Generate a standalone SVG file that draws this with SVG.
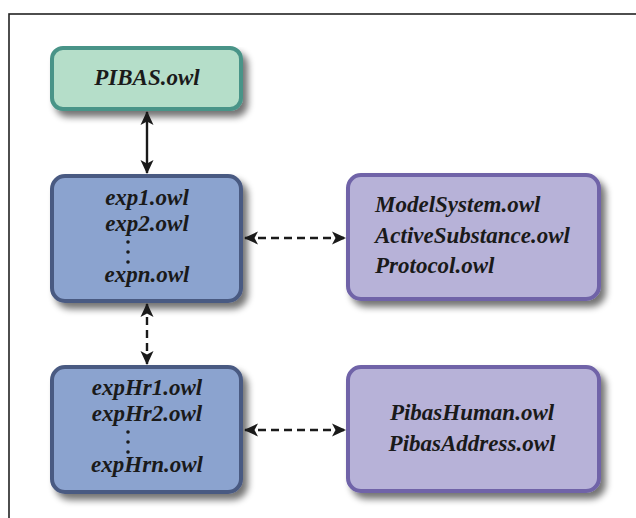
<svg xmlns="http://www.w3.org/2000/svg" width="636" height="518" viewBox="0 0 636 518">
  <defs>
    <filter id="shadow" x="-10%" y="-10%" width="130%" height="140%">
      <feGaussianBlur in="SourceAlpha" stdDeviation="3.5"/>
      <feOffset dx="5" dy="6" result="b"/>
      <feComponentTransfer><feFuncA type="linear" slope="0.55"/></feComponentTransfer>
      <feMerge><feMergeNode/><feMergeNode in="SourceGraphic"/></feMerge>
    </filter>
    <marker id="head" viewBox="0 0 14 14" refX="13" refY="7" markerWidth="14" markerHeight="14" markerUnits="userSpaceOnUse" orient="auto-start-reverse">
      <path d="M0,0.5 L14,7 L0,13.5 L3.5,7 Z" fill="#1a1a1a"/>
    </marker>
    <style>
      .lbl { font-weight: bold; font-style: italic; font-size: 23px; fill: #1a1a1a; }
      .mid { text-anchor: middle; }
      .green { fill: #b5dec9; stroke: #4a9488; stroke-width: 4; }
      .blue { fill: #8ba3cf; stroke: #4a5a82; stroke-width: 4; }
      .purple { fill: #b7b2d8; stroke: #6f63a8; stroke-width: 4; }
      .conn { stroke: #1a1a1a; stroke-width: 2.4; fill: none; }
      .dash { stroke-dasharray: 8 5; }
      .dot { fill: #1a1a1a; }
    </style>
  </defs>

  <rect width="636" height="518" fill="#ffffff"/>
  <!-- outer frame -->
  <rect x="9" y="14" width="700" height="600" fill="none" stroke="#222222" stroke-width="1.6"/>

  <g font-family="Liberation Serif, Times New Roman, serif">
    <g id="pibas">
      <rect class="green" x="52" y="48" width="189" height="61" rx="11" filter="url(#shadow)"/>
      <text class="lbl mid" x="147" y="85">PIBAS.owl</text>
    </g>

    <g id="exp">
      <rect class="blue" x="52" y="176" width="189" height="125" rx="13" filter="url(#shadow)"/>
      <text class="lbl mid" x="147" y="205">exp1.owl</text>
      <text class="lbl mid" x="147" y="231">exp2.owl</text>
      <circle class="dot" cx="128" cy="242" r="1.8"/>
      <circle class="dot" cx="128" cy="252" r="1.8"/>
      <circle class="dot" cx="128" cy="262" r="1.8"/>
      <text class="lbl mid" x="147" y="282">expn.owl</text>
    </g>

    <g id="domain">
      <rect class="purple" x="348" y="175" width="251" height="124" rx="13" filter="url(#shadow)"/>
      <text class="lbl" x="375" y="212">ModelSystem.owl</text>
      <text class="lbl" x="375" y="243">ActiveSubstance.owl</text>
      <text class="lbl" x="375" y="273">Protocol.owl</text>
    </g>

    <g id="expHr">
      <rect class="blue" x="52" y="367" width="189" height="125" rx="13" filter="url(#shadow)"/>
      <text class="lbl mid" x="147" y="395">expHr1.owl</text>
      <text class="lbl mid" x="147" y="421">expHr2.owl</text>
      <circle class="dot" cx="128" cy="432" r="1.8"/>
      <circle class="dot" cx="128" cy="442" r="1.8"/>
      <circle class="dot" cx="128" cy="452" r="1.8"/>
      <text class="lbl mid" x="147" y="472">expHrn.owl</text>
    </g>

    <g id="human">
      <rect class="purple" x="348" y="367" width="251" height="124" rx="13" filter="url(#shadow)"/>
      <text class="lbl mid" x="472" y="420">PibasHuman.owl</text>
      <text class="lbl mid" x="472" y="451">PibasAddress.owl</text>
    </g>
  </g>

  <g id="connectors">
    <line class="conn" x1="147" y1="112" x2="147" y2="173" marker-start="url(#head)" marker-end="url(#head)"/>
    <line class="conn dash" x1="147" y1="304" x2="147" y2="364" marker-start="url(#head)" marker-end="url(#head)"/>
    <line class="conn dash" x1="245" y1="238" x2="345" y2="238" marker-start="url(#head)" marker-end="url(#head)"/>
    <line class="conn dash" x1="245" y1="430" x2="345" y2="430" marker-start="url(#head)" marker-end="url(#head)"/>
  </g>
</svg>
